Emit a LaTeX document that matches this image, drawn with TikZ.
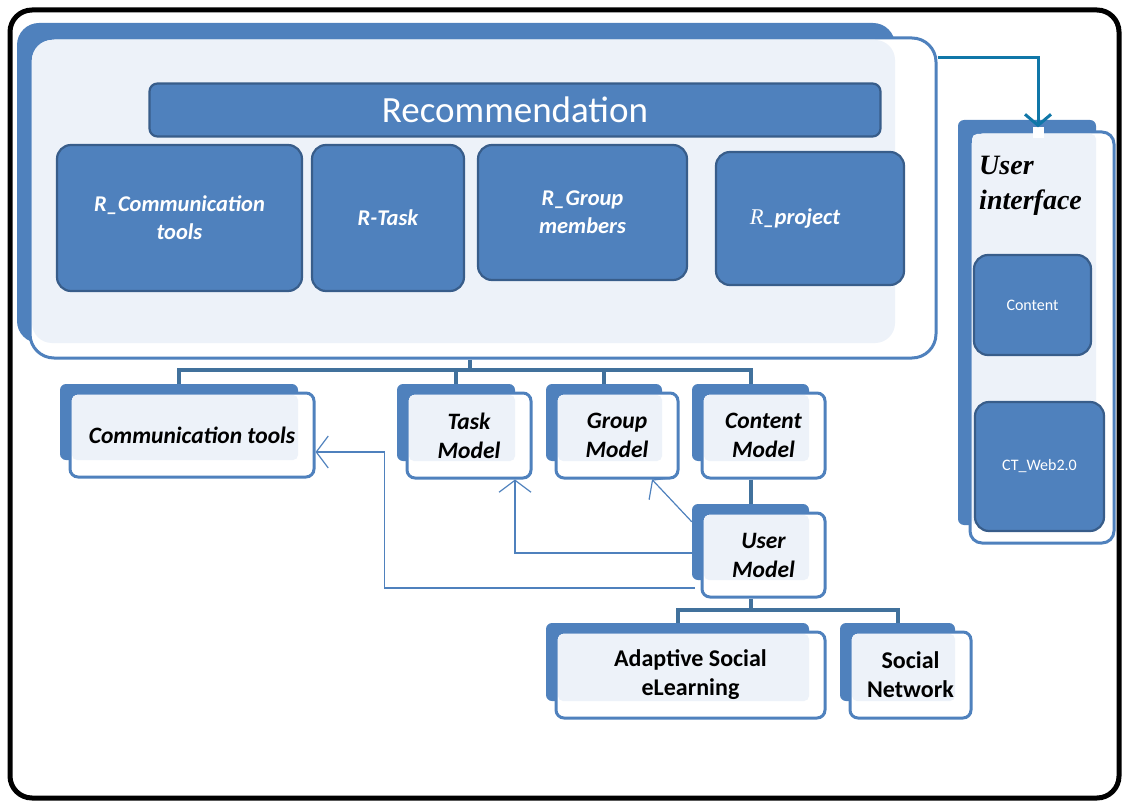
\documentclass[tikz,border=0pt]{standalone}
\usepackage{fontspec}
\setmainfont{Carlito}
\newfontfamily\timesfont{Liberation Serif}
\usetikzlibrary{arrows.meta,positioning,fit,calc}
\definecolor{cBlue}{HTML}{4F81BD}
\definecolor{cEdge}{HTML}{385D8A}
\definecolor{cPale}{HTML}{EDF2F9}
\definecolor{cBus} {HTML}{41719C}
\definecolor{cTeal}{HTML}{1077A8}
\tikzset{
  rbox/.style   ={draw=cEdge,fill=cBlue,line width=2.2pt,rounded corners=14pt,inner sep=0pt,
                  text=white,align=center,font=\fontsize{22.5}{28}\selectfont\bfseries\itshape},
  back/.style   ={fill=cBlue,rounded corners=6pt,inner sep=0pt},
  front/.style  ={draw=cBlue,fill=white,line width=3pt,rounded corners=8pt,inner sep=0pt},
  pale/.style   ={fill=cPale,rounded corners=5pt},
  cardtxt/.style={align=center,font=\fontsize{24}{29}\selectfont\bfseries},
  itcard/.style ={font=\fontsize{23.5}{29}\selectfont\bfseries\itshape},
  bus/.style    ={draw=cBus,line width=4pt},
  link/.style   ={draw=cBlue,line width=1.2pt,-{Straight Barb[length=12pt,width=32pt]}},
  feed/.style   ={draw=cTeal,line width=3pt,-{Straight Barb[length=11pt,width=26pt]}},
}
% card: [text style] name, front top-left x,y, front bottom-right x,y, text
\newcommand\card[7][]{%
  \node[back,fit={(#3-10,#4-9)(#5-16,#6-17)}] (#2b) {};
  \node[front,fit={(#3,#4)(#5,#6)}] (#2) {};
  \fill[pale] (#3+2,#4+2) rectangle (#5-16,#6-17);
  \node[cardtxt,#1] (#2t) at (#2.center) {#7};
}

\begin{document}
\begin{tikzpicture}[x=1pt,y=-1pt]
\useasboundingbox (0,0) rectangle (1123,802);
\draw[line width=5pt,rounded corners=22pt] (10,10) rectangle (1119,798);

% ===== recommendation block =================================================
\node[back,rounded corners=22pt,fit={(17,23)(895,343)}] (recboxb) {};
\node[front,rounded corners=24pt,fit={(30,38)(936,358)}] (recbox) {};
\fill[pale,rounded corners=20pt] (32,40) rectangle (895,343);
\node[rbox,rounded corners=8pt,font=\fontsize{37}{40}\selectfont,
      minimum width=731,minimum height=53] (recbar) at (515,110) {Recommendation};
\node[rbox,minimum width=245,minimum height=146] (rcomm)  at (179.5,218) {R\_Communication\\tools};
\node[rbox,minimum width=152,minimum height=146] (rtask)  at (388,218)   {R-Task};
\node[rbox,minimum width=209,minimum height=135] (rgroup) at (582.5,212.5) {R\_Group\\members};
\node[rbox,minimum width=188,minimum height=133] (rproj)  at (810,218.5) {};
\node[font=\fontsize{22.5}{28}\selectfont\bfseries\itshape,text=white] (rprojt) at (795,219)
  {{\timesfont\mdseries R}\_project};

% ===== user interface =======================================================
\node[back,fit={(958,120)(1096,525)}] (uib) {};
\node[front,rounded corners=12pt,fit={(970,132)(1114,543)}] (ui) {};
\fill[pale] (972,134) rectangle (1096,525);
\node[anchor=north west,align=left,inner sep=0pt,
      font=\timesfont\fontsize{28}{35}\selectfont\bfseries\itshape] (uititle) at (979,156) {User\\interface};
\node[rbox,font=\fontsize{16}{20}\selectfont,minimum width=117,minimum height=100] (uicont) at (1032.5,305) {Content};
\node[rbox,font=\fontsize{16}{20}\selectfont,minimum width=129,minimum height=129] (uiweb)  at (1039.5,466.5) {CT\_Web2.0};
\node[fill=white,minimum size=11pt,inner sep=0pt] (uiport) at (1038,133) {};
\draw[feed] ([shift={(0,-140)}]recbox.east) -| (uiport.north);

% ===== models ===============================================================
\card[itcard]{comm}{70}{393}{314}{477}{Communication tools}
\card[itcard]{task}{407}{393}{531}{478}{Task\\Model}
\card[itcard]{group}{556}{393}{678}{478}{Group\\Model}
\card[itcard]{content}{702}{393}{825}{478}{Content\\Model}
\card[itcard]{user}{702}{513}{825}{597}{User\\Model}
\card{adapt}{556}{632}{825}{718}{Adaptive Social\\eLearning}
\card{social}{850}{632}{971}{718}{Social\\Network}

\coordinate (hub) at (470,370);
\draw[bus] (recbox.south -| hub) -- (hub);
\draw[bus] (commb.north) -- (commb.north |- hub) -| (contentb.north);
\draw[bus] (taskb.north) -- (taskb.north |- hub);
\draw[bus] (groupb.north) -- (groupb.north |- hub);
\draw[bus] (contentb.north |- content.south) -- (userb.north);
\draw[bus] (userb.north |- user.south) -- ++(0,11) coordinate (hub2);
\draw[bus] (adaptb.north) |- (hub2) -| (socialb.north);

\draw[link] ([shift={(0,11)}]userb.west) -| ([shift={(46,0)}]task.south);
\draw[link] ([shift={(-6,33)}]user.west) -| ([shift={(69,17)}]comm.east) -- ([shift={(0,17)}]comm.east);
\draw[link] ([shift={(0,18)}]userb.north west) -- ([shift={(35,0)}]group.south);
\end{tikzpicture}
\end{document}
